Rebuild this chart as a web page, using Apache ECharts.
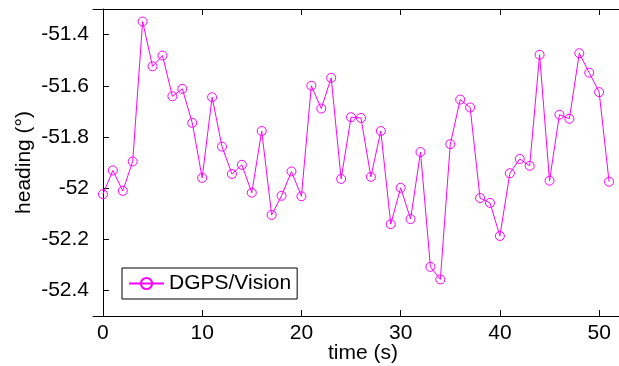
<!DOCTYPE html>
<html><head><meta charset="utf-8">
<script src="https://cdn.jsdelivr.net/npm/echarts@6/dist/echarts.min.js"></script>
<style>html,body{margin:0;padding:0;background:#fff}#c{width:619px;height:366px}</style>
</head><body><div id="c"></div>
<script>
const times = [0,1,2,3,4,5,6,7,8,9,10,11,12,13,14,15,16,17,18,19,20,21,22,23,24,25,26,27,28,29,30,31,32,33,34,35,36,37,38,39,40,41,42,43,44,45,46,47,48,49,50,51];
const heading = [-52.024,-51.931,-52.011,-51.896,-51.349,-51.524,-51.482,-51.641,-51.612,-51.745,
  -51.960,-51.645,-51.838,-51.945,-51.909,-52.018,-51.777,-52.105,-52.030,-51.935,
  -52.032,-51.600,-51.689,-51.569,-51.964,-51.723,-51.726,-51.956,-51.777,-52.141,
  -51.999,-52.121,-51.859,-52.308,-52.357,-51.828,-51.654,-51.685,-52.039,-52.058,
  -52.187,-51.942,-51.886,-51.913,-51.479,-51.971,-51.713,-51.729,-51.473,-51.549,
  -51.625,-51.975];
const xTicks = [0,10,20,30,40,50];
const yTicks = [-52.4,-52.2,-52,-51.8,-51.6,-51.4];
const seriesName = 'DGPS/Vision';

const font = 'Liberation Sans, Arial, sans-serif';
const chart = echarts.init(document.getElementById('c'), null, {renderer:'canvas'});
const axisLine = {show:true, lineStyle:{color:'#000', width:1}};
chart.setOption({
  animation:false,
  backgroundColor:'#fff',
  textStyle:{fontFamily:font},
  grid:{left:93, top:9, bottom:50, right:0, show:false, containLabel:false, outerBoundsMode:'none'},
  legend:{
    show:true, data:[seriesName], left:122, top:268, orient:'horizontal',
    padding:[5,6,5,6], itemWidth:35, itemHeight:14, itemGap:5,
    borderColor:'#000', borderWidth:1, backgroundColor:'#fff',
    textStyle:{fontFamily:font, fontSize:21, color:'#000'}
  },
  xAxis:[{
    type:'value', min:-1, max:52, position:'bottom',
    name:'time (s)', nameLocation:'middle', nameGap:27, nameMoveOverlap:false,
    nameTextStyle:{fontFamily:font, fontSize:21, color:'#000', padding:[0,0,0,14]},
    axisLine:axisLine, splitLine:{show:false},
    axisTick:{show:true, inside:true, length:6, customValues:xTicks, lineStyle:{color:'#000'}},
    axisLabel:{customValues:xTicks, fontFamily:font, fontSize:21, color:'#000', margin:7}
  },{
    type:'value', min:-1, max:52, position:'top',
    axisLine:axisLine, splitLine:{show:false},
    axisTick:{show:true, inside:true, length:6, customValues:xTicks, lineStyle:{color:'#000'}},
    axisLabel:{show:false}
  }],
  yAxis:[{
    type:'value', min:-52.5, max:-51.3, position:'left',
    name:'heading (°)', nameLocation:'middle', nameGap:58, nameRotate:90, nameMoveOverlap:false,
    nameTextStyle:{fontFamily:font, fontSize:21, color:'#000'},
    axisLine:axisLine, splitLine:{show:false},
    axisTick:{show:true, inside:true, length:6, customValues:yTicks, lineStyle:{color:'#000'}},
    axisLabel:{customValues:yTicks, fontFamily:font, fontSize:21, color:'#000', margin:4}
  },{
    type:'value', min:-52.5, max:-51.3, position:'right',
    axisLine:{show:false}, splitLine:{show:false},
    axisTick:{show:false}, axisLabel:{show:false}
  }],
  series:[{
    name:seriesName, type:'line',
    data:times.map((t,i)=>[t, heading[i]]),
    symbol:'circle', symbolSize:9, showSymbol:true,
    lineStyle:{color:'#ff00ff', width:1},
    itemStyle:{color:'rgba(255,255,255,0)', borderColor:'#ff00ff', borderWidth:1},
    emphasis:{disabled:true}
  }]
});
</script></body></html>
